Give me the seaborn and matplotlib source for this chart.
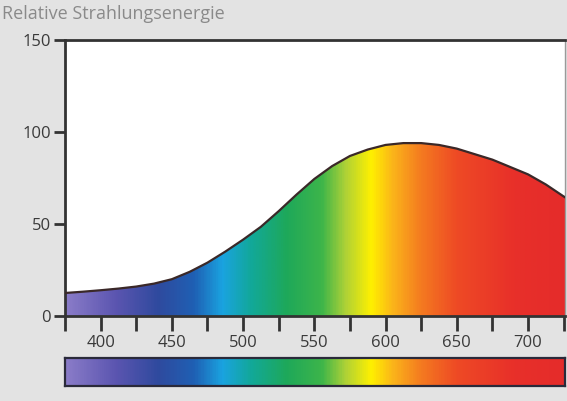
import numpy as np
import pandas as pd
import matplotlib
matplotlib.use("Agg")
import matplotlib.pyplot as plt
import seaborn as sns
from matplotlib.colors import LinearSegmentedColormap

# values
wavelength = [375, 387.5, 400, 412.5, 425, 437.5, 450, 462.5, 475, 487.5, 500,
              512.5, 525, 537.5, 550, 562.5, 575, 587.5, 600, 612.5, 625,
              637.5, 650, 662.5, 675, 687.5, 700, 712.5, 725, 737.5]
energy = [12.5, 13.2, 14.0, 14.9, 16.0, 17.6, 20.0, 24.0, 29.0, 35.0, 41.5,
          48.5, 57.0, 66.0, 74.5, 81.5, 87.0, 90.5, 93.0, 94.0, 94.0,
          93.0, 91.0, 88.0, 85.0, 81.0, 77.0, 71.5, 65.0, 59.0]

yticks = [0, 50, 100, 150]
xlabels = [400, 450, 500, 550, 600, 650, 700]
title = "Relative Strahlungsenergie"

spec_nm = [375, 410, 440, 465, 485, 505, 530, 555, 572, 590, 605, 625, 650, 690, 740]
spec_col = ["#8a7cc8", "#5b55b0", "#2f4a9e", "#1f60b4", "#1aa3e0", "#12a89a",
            "#1ea85a", "#3db54a", "#b0d236", "#fff000", "#fbb41a", "#f47a20",
            "#ee4a25", "#e8302a", "#e42a2a"]

x0, x1 = 375, 726
cmap = LinearSegmentedColormap.from_list(
    "spec", [((n - spec_nm[0]) / (spec_nm[-1] - spec_nm[0]), c) for n, c in zip(spec_nm, spec_col)])

df = pd.DataFrame({"nm": wavelength, "e": energy})

sns.set_style("white")
plt.rcParams["font.family"] = ["Open Sans", "DejaVu Sans"]

fig = plt.figure(figsize=(5.67, 4.01), dpi=100, facecolor="#e3e3e3")
ax = fig.add_axes([0.1146, 0.212, 0.882, 0.688])
ax.set_facecolor("white")

grad = np.linspace(spec_nm[0], spec_nm[-1], 600)[None, :]
fill = ax.fill_between(df["nm"], df["e"], 0, color="none", lw=0)
im = ax.imshow(grad, cmap=cmap, aspect="auto", extent=[spec_nm[0], spec_nm[-1], 0, 150],
               vmin=spec_nm[0], vmax=spec_nm[-1], zorder=1)
im.set_clip_path(fill.get_paths()[0], transform=ax.transData)
sns.lineplot(data=df, x="nm", y="e", ax=ax, color="#3a2828", lw=1.6, zorder=3)

ax.set_xlim(x0, x1)
ax.set_ylim(0, 150)
ax.set_xlabel("")
ax.set_ylabel("")
ax.set_yticks(yticks)
ax.set_xticks(xlabels)
ax.set_xticks(list(range(375, 730, 25)), minor=True)
ax.tick_params(axis="y", direction="out", length=8, width=2, color="#333333",
               labelsize=12, labelcolor="#3a3a3a", pad=2, left=True)
ax.tick_params(axis="x", which="both", direction="out", length=11, width=2,
               color="#333333", labelsize=12, labelcolor="#3a3a3a", pad=3, bottom=True)
for s in ["left", "top", "bottom"]:
    ax.spines[s].set_color("#333333")
    ax.spines[s].set_linewidth(2)
ax.spines["right"].set_color("#9a9a9a")
ax.spines["right"].set_linewidth(1)

cax = fig.add_axes([0.1146, 0.0374, 0.882, 0.0698])
cax.imshow(grad, cmap=cmap, aspect="auto", extent=[spec_nm[0], spec_nm[-1], 0, 1],
           vmin=spec_nm[0], vmax=spec_nm[-1])
cax.set_xlim(x0, x1)
cax.set_ylim(0, 1)
cax.set_xticks([])
cax.set_yticks([])
for s in cax.spines.values():
    s.set_color("#2a2a3a")
    s.set_linewidth(1.6)

fig.text(0.004, 0.952, title, fontsize=13, color="#8a8a8a", ha="left", va="baseline")

plt.savefig("out.png", dpi=100, facecolor=fig.get_facecolor())
plt.close()
